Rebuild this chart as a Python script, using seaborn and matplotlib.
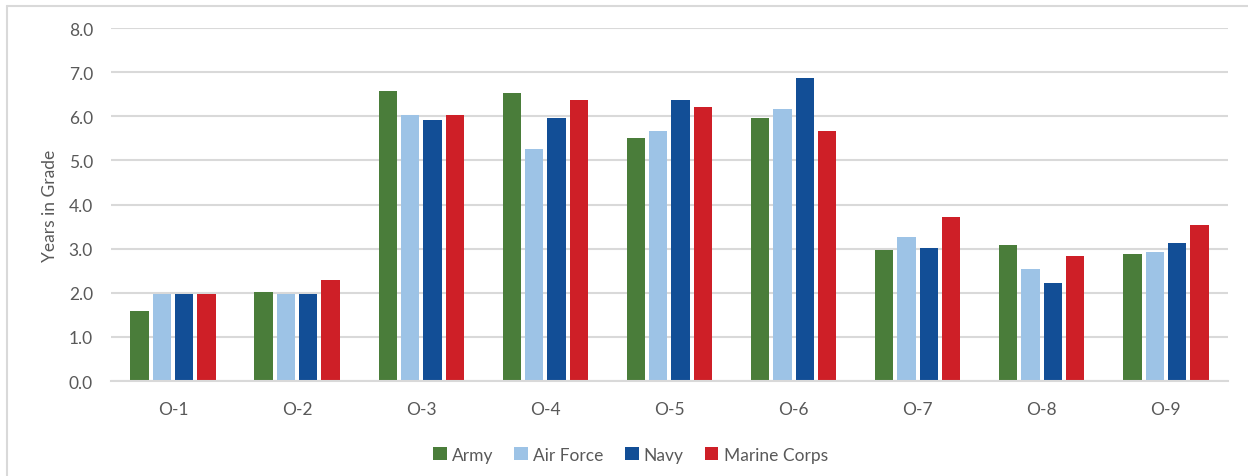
import pandas as pd
import numpy as np
import matplotlib.pyplot as plt
import seaborn as sns
from matplotlib.lines import Line2D

# dados
grades = ['O-1', 'O-2', 'O-3', 'O-4', 'O-5', 'O-6', 'O-7', 'O-8', 'O-9']
services = ['Army', 'Air Force', 'Navy', 'Marine Corps']
army = [1.58, 2.02, 6.57, 6.53, 5.52, 5.97, 2.97, 3.08, 2.88]
air_force = [1.97, 1.97, 6.02, 5.27, 5.67, 6.17, 3.27, 2.53, 2.93]
navy = [1.97, 1.97, 5.92, 5.97, 6.37, 6.87, 3.02, 2.23, 3.12]
marine_corps = [1.97, 2.28, 6.02, 6.37, 6.22, 5.67, 3.73, 2.83, 3.53]
colors = ['#4A7D3A', '#9DC3E6', '#124E96', '#CE1F27']

df = pd.DataFrame({
    'grade': grades * 4,
    'service': np.repeat(services, len(grades)),
    'years': army + air_force + navy + marine_corps,
})

sns.set_style("white")
plt.rcParams['font.family'] = ['Lato', 'DejaVu Sans']
text_color = '#595959'
fs = 12.5

fig = plt.figure(figsize=(12.48, 4.77), dpi=100)
ax = fig.add_axes([0.0889, 0.199, 0.895, 0.740])

sns.barplot(data=df, x='grade', y='years', hue='service', palette=colors,
            saturation=1, width=0.72, gap=0.18, ax=ax, legend=True,
            edgecolor='none')

ax.set_ylim(0, 8)
ax.set_yticks(np.arange(0, 8.1, 1.0))
ax.set_yticklabels([f'{v:.1f}' for v in np.arange(0, 8.1, 1.0)])
ax.set_xlim(-0.5, len(grades) - 0.5)
ax.grid(axis='y', color='#D9D9D9', linewidth=1.5)
ax.set_axisbelow(True)
for s in ['top', 'right', 'left']:
    ax.spines[s].set_visible(False)
ax.spines['bottom'].set_color('#D9D9D9')
ax.spines['bottom'].set_linewidth(1.5)
ax.tick_params(axis='both', length=0, labelsize=fs, colors=text_color)
ax.tick_params(axis='y', pad=13)
ax.tick_params(axis='x', pad=14)
ax.set_xlabel('')
ax.set_ylabel('Years in Grade', fontsize=fs, color=text_color, labelpad=8)

leg = ax.legend(loc='upper center', bbox_to_anchor=(0.465, -0.142), ncol=4,
                frameon=False, fontsize=fs, handlelength=0.8, handleheight=0.8,
                handletextpad=0.3, columnspacing=1.2)
for t in leg.get_texts():
    t.set_color(text_color)

# moldura do gráfico
fig.add_artist(Line2D([7 / 1248, 1], [1 - 7 / 477, 1 - 7 / 477],
                      transform=fig.transFigure, color='#D9D9D9', linewidth=1.5))
fig.add_artist(Line2D([7 / 1248, 7 / 1248], [0, 1 - 7 / 477],
                      transform=fig.transFigure, color='#D9D9D9', linewidth=1.5))

fig.savefig('out.png', dpi=100)
